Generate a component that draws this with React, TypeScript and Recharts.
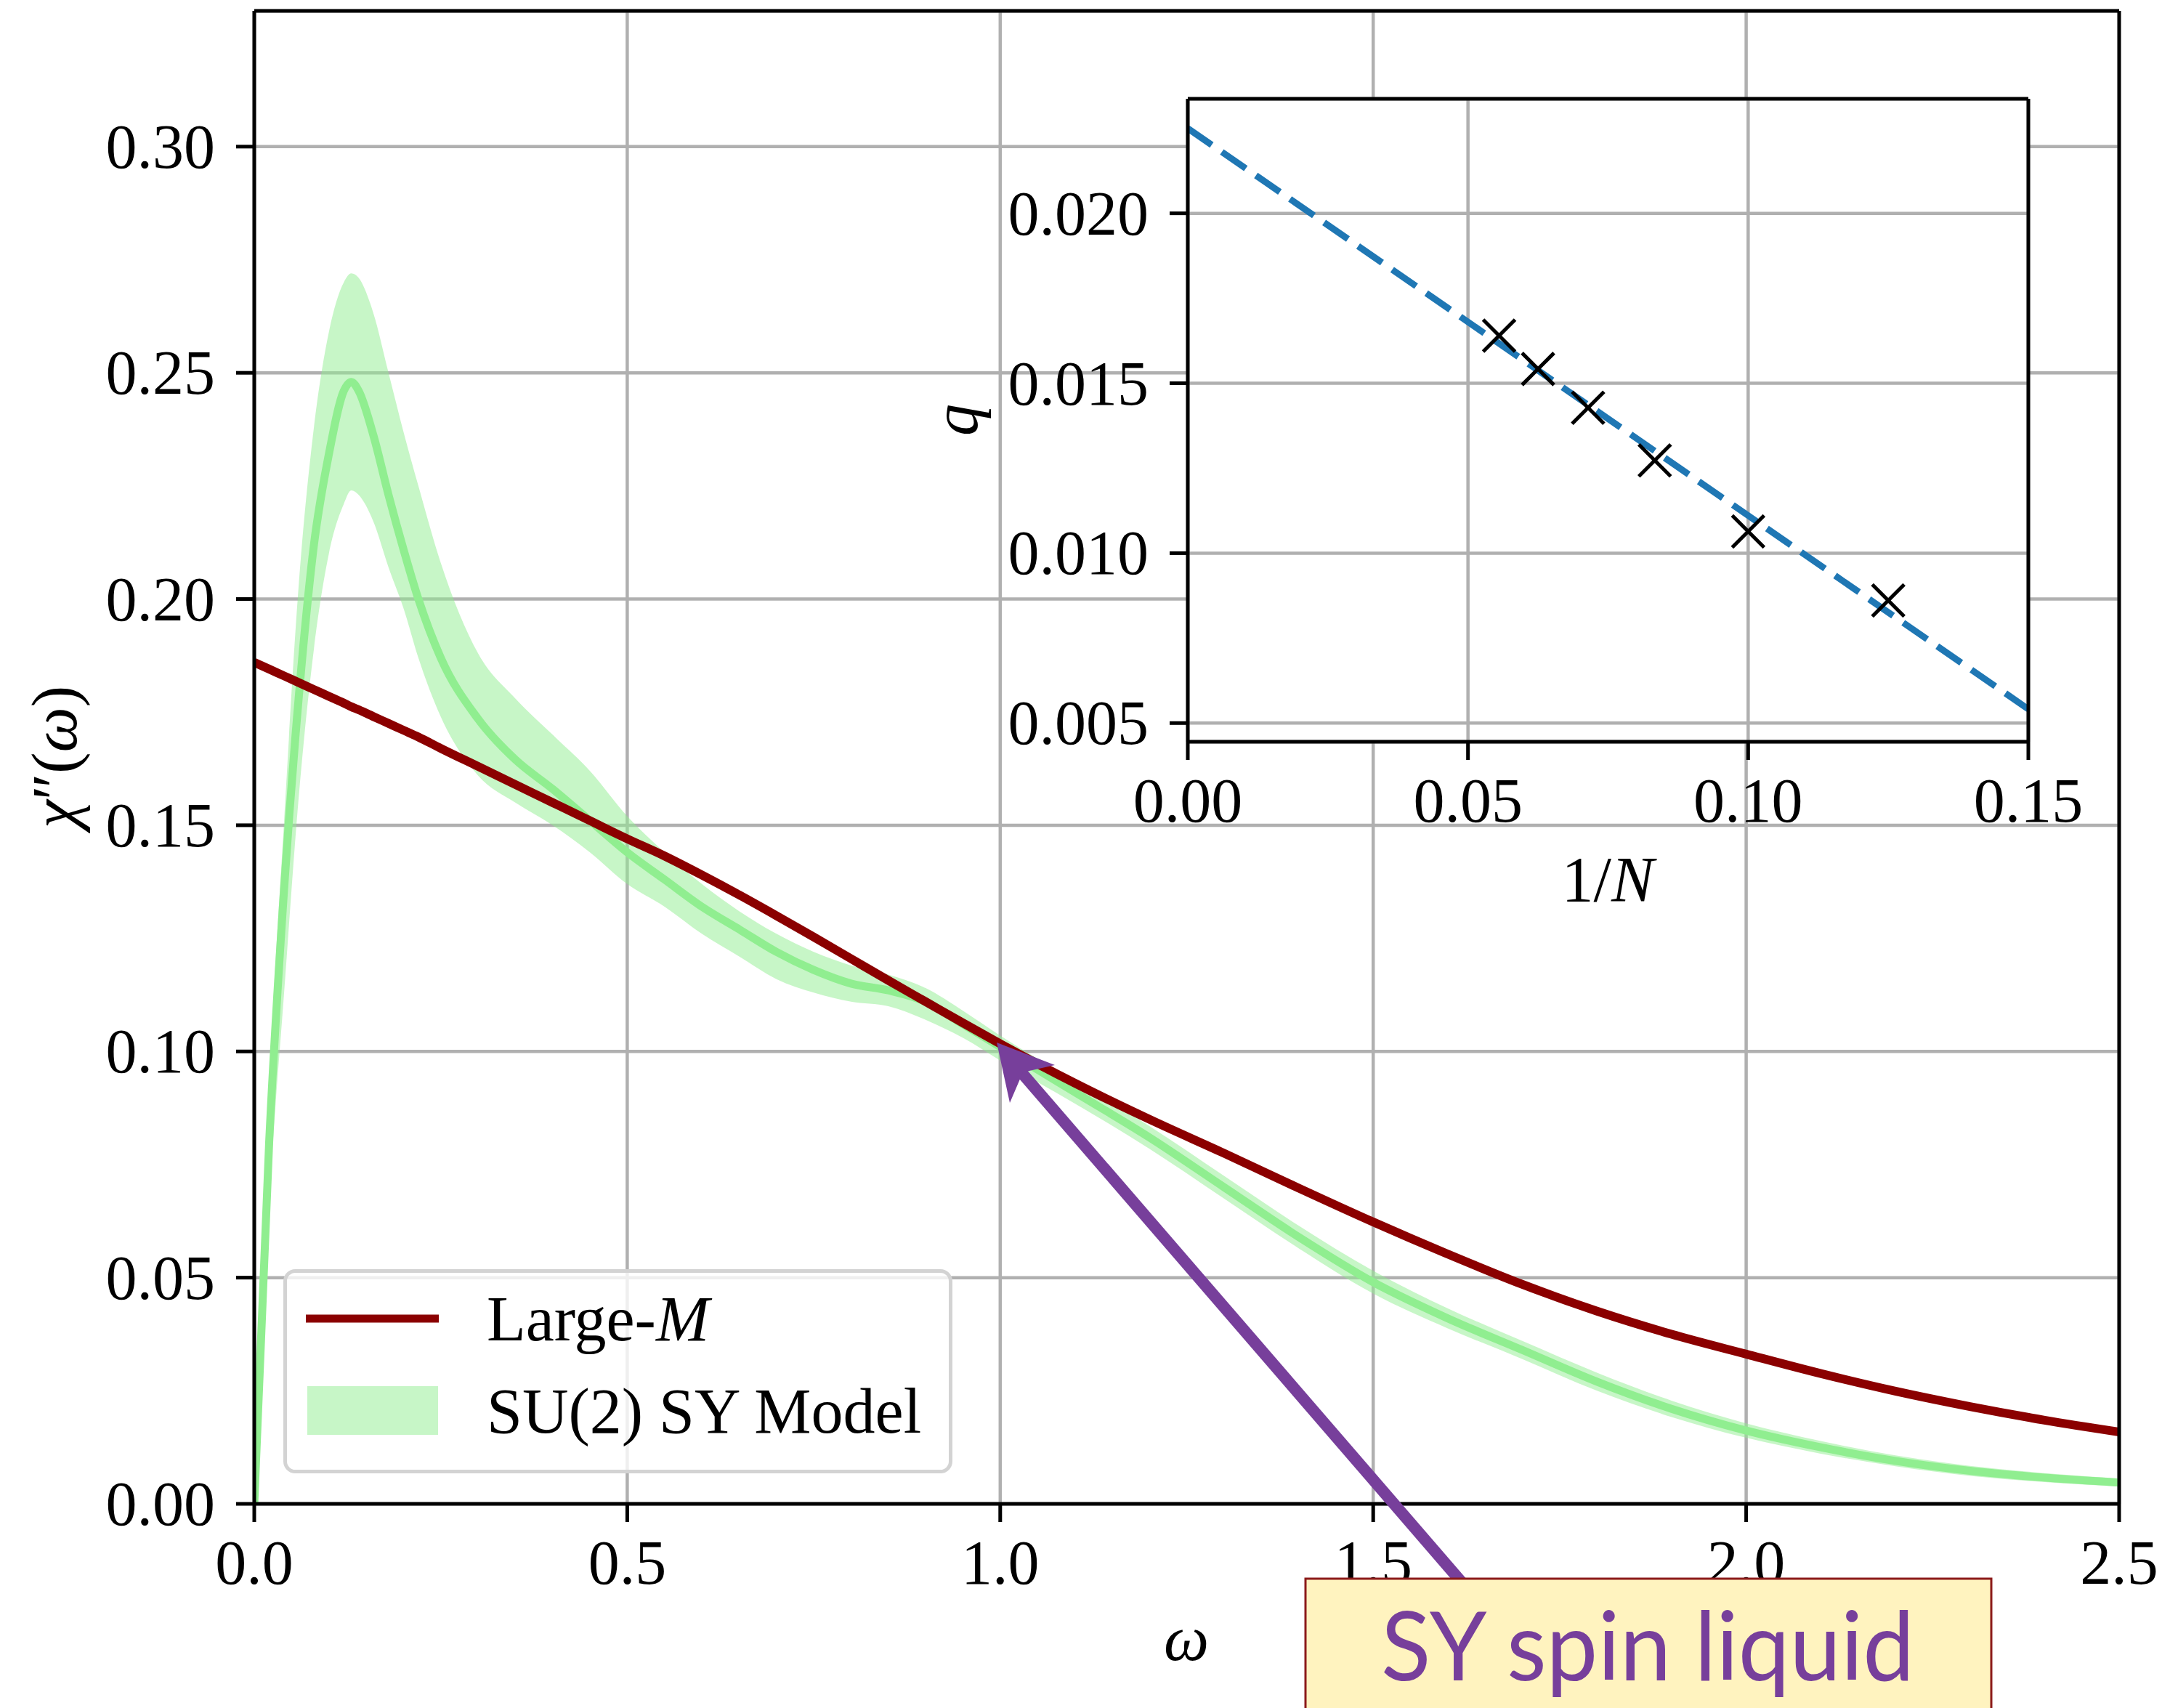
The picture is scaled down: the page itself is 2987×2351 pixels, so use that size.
import React from "react";
import {
  ComposedChart,
  Line,
  Area,
  Scatter,
  XAxis,
  YAxis,
  CartesianGrid,
  ReferenceLine,
  Legend,
} from "recharts";

const SERIF = '"Liberation Serif", "DejaVu Serif", serif';
const SANS = 'Lato, "Open Sans", sans-serif';
const PURPLE = "#773f9b";
const GRID = "#b0b0b0";

// main panel: chi''(omega)
const omega = [
  0, 0.02, 0.04, 0.06, 0.08, 0.1, 0.12, 0.13, 0.14, 0.16, 0.18, 0.2, 0.22, 0.25,
  0.3, 0.35, 0.4, 0.45, 0.5, 0.55, 0.6, 0.65, 0.7, 0.75, 0.8, 0.85, 0.9, 0.95,
  1.0, 1.1, 1.2, 1.3, 1.4, 1.5, 1.6, 1.7, 1.8, 1.9, 2.0, 2.1, 2.2, 2.3, 2.4, 2.5,
];
const largeM = [
  0.186, 0.1845, 0.183, 0.1815, 0.18, 0.1785, 0.177, 0.1762, 0.1755, 0.174, 0.1725,
  0.171, 0.1695, 0.167, 0.163, 0.159, 0.155, 0.151, 0.147, 0.1432, 0.139, 0.1346,
  0.13, 0.1253, 0.1205, 0.1157, 0.111, 0.1063, 0.1017, 0.093, 0.085, 0.0775,
  0.0698, 0.0623, 0.0552, 0.0485, 0.0426, 0.0375, 0.0331, 0.0288, 0.0249, 0.0215,
  0.0185, 0.0159,
];
const syMid = [
  0, 0.08, 0.136, 0.179, 0.212, 0.232, 0.246, 0.248, 0.246, 0.236, 0.223, 0.211,
  0.2, 0.187, 0.1735, 0.1645, 0.158, 0.151, 0.144, 0.138, 0.132, 0.127, 0.122,
  0.118, 0.115, 0.1135, 0.111, 0.106, 0.101, 0.091, 0.081, 0.07, 0.059, 0.049,
  0.041, 0.034, 0.027, 0.021, 0.0162, 0.0125, 0.0095, 0.0073, 0.0058, 0.0047,
];
const syHi = [
  0, 0.092, 0.151, 0.204, 0.238, 0.259, 0.27, 0.272, 0.271, 0.263, 0.25, 0.237,
  0.225, 0.208, 0.188, 0.178, 0.17, 0.162, 0.152, 0.144, 0.137, 0.131, 0.126,
  0.122, 0.119, 0.117, 0.114, 0.109, 0.1035, 0.0935, 0.0835, 0.0725, 0.0615,
  0.0515, 0.0432, 0.036, 0.029, 0.0228, 0.0178, 0.0139, 0.0107, 0.0084, 0.0068,
  0.0056,
];
const syLo = [
  0, 0.067, 0.113, 0.157, 0.189, 0.21, 0.221, 0.224, 0.223, 0.217, 0.207, 0.198,
  0.187, 0.174, 0.161, 0.155, 0.15, 0.144, 0.137, 0.132, 0.126, 0.121, 0.116,
  0.113, 0.111, 0.11, 0.107, 0.103, 0.098, 0.0885, 0.0785, 0.0675, 0.0565,
  0.0465, 0.0388, 0.032, 0.025, 0.0192, 0.0146, 0.0111, 0.0083, 0.0062, 0.0048,
  0.0038,
];
const mainXTicks = [0, 0.5, 1, 1.5, 2, 2.5];
const mainYTicks = [0, 0.05, 0.1, 0.15, 0.2, 0.25, 0.3];

// inset: q against 1/N
const invN = [1 / 18, 1 / 16, 1 / 14, 1 / 12, 1 / 10, 1 / 8];
const qPoints = [0.0164, 0.01542, 0.01428, 0.01273, 0.01064, 0.00861];
const fitX = [0, 0.15];
const fitQ = [0.0225, 0.00541];
const insetXTicks = [0, 0.05, 0.1, 0.15];
const insetYTicks = [0.005, 0.01, 0.015, 0.02];

const mainData = omega.map((w, i) => ({
  w,
  largeM: largeM[i],
  mid: syMid[i],
  band: [syLo[i], syHi[i]],
}));
const fitData = fitX.map((x, i) => ({ x, q: fitQ[i] }));
const markerData = invN.map((x, i) => ({ x, q: qPoints[i] }));

const xTick = (digits: number) => (props: any) => (
  <text
    x={props.x}
    y={props.y + 85}
    textAnchor="middle"
    fontSize={86}
    fontFamily={SERIF}
    fill="#000"
  >
    {Number(props.payload.value).toFixed(digits)}
  </text>
);

const yTick = (digits: number) => (props: any) => (
  <text
    x={props.x - 29}
    y={props.y + 29}
    textAnchor="end"
    fontSize={86}
    fontFamily={SERIF}
    fill="#000"
  >
    {Number(props.payload.value).toFixed(digits)}
  </text>
);

const XMark = (props: any) => {
  const { cx, cy } = props;
  const s = 22;
  return (
    <g stroke="#000" strokeWidth={5}>
      <line x1={cx - s} y1={cy - s} x2={cx + s} y2={cy + s} />
      <line x1={cx - s} y1={cy + s} x2={cx + s} y2={cy - s} />
    </g>
  );
};

const LegendBox = () => (
  <svg width={921} height={281} style={{ display: "block" }}>
    <rect
      x={2.5}
      y={2.5}
      width={916}
      height={276}
      rx={14}
      fill="#fff"
      fillOpacity={0.8}
      stroke="#d3d3d3"
      strokeWidth={5}
    />
    <line x1={31} x2={214} y1={68} y2={68} stroke="#8b0000" strokeWidth={11} />
    <text x={280} y={98} fontSize={88} fontFamily={SERIF}>
      Large-<tspan fontStyle="italic">M</tspan>
    </text>
    <rect x={33} y={161} width={180} height={67} fill="#90ee90" fillOpacity={0.5} />
    <text x={280} y={225} fontSize={88} fontFamily={SERIF}>
      SU(2) SY Model
    </text>
  </svg>
);

function MainChart() {
  return (
    <ComposedChart
      width={2987}
      height={2351}
      data={mainData}
      margin={{ top: 15, right: 70, bottom: 0, left: 0 }}
    >
      <CartesianGrid stroke={GRID} strokeWidth={4.5} />
      <XAxis
        dataKey="w"
        type="number"
        domain={[0, 2.5]}
        ticks={mainXTicks}
        interval={0}
        height={281}
        tickSize={25}
        tickMargin={0}
        axisLine={{ stroke: "#000", strokeWidth: 5 }}
        tickLine={{ stroke: "#000", strokeWidth: 5 }}
        tick={xTick(1)}
        allowDataOverflow
      />
      <YAxis
        type="number"
        domain={[0, 0.33]}
        ticks={mainYTicks}
        interval={0}
        width={350}
        tickSize={25}
        tickMargin={0}
        axisLine={{ stroke: "#000", strokeWidth: 5 }}
        tickLine={{ stroke: "#000", strokeWidth: 5 }}
        tick={yTick(2)}
        allowDataOverflow
      />
      <Area
        dataKey="band"
        type="monotone"
        stroke="none"
        fill="#90ee90"
        fillOpacity={0.5}
        isAnimationActive={false}
        activeDot={false}
      />
      <Line
        dataKey="mid"
        type="monotone"
        stroke="#90ee90"
        strokeWidth={11}
        dot={false}
        activeDot={false}
        isAnimationActive={false}
      />
      <Line
        dataKey="largeM"
        type="monotone"
        stroke="#8b0000"
        strokeWidth={12}
        dot={false}
        activeDot={false}
        isAnimationActive={false}
      />
      <ReferenceLine x={2.5} stroke="#000" strokeWidth={5} />
      <ReferenceLine y={0.33} stroke="#000" strokeWidth={5} />
      <Legend
        layout="horizontal"
        align="center"
        verticalAlign="middle"
        content={<LegendBox />}
        wrapperStyle={{ left: 390, top: 1747, width: 921, height: 281, margin: 0 }}
      />
    </ComposedChart>
  );
}

function InsetChart() {
  return (
    <ComposedChart
      width={1600}
      height={1250}
      data={fitData}
      margin={{ top: 36, right: 108, bottom: 0, left: 0 }}
    >
      <CartesianGrid stroke={GRID} strokeWidth={4.5} fill="#fff" fillOpacity={1} />
      <XAxis
        dataKey="x"
        type="number"
        domain={[0, 0.15]}
        ticks={insetXTicks}
        interval={0}
        height={329}
        tickSize={25}
        tickMargin={0}
        axisLine={{ stroke: "#000", strokeWidth: 5 }}
        tickLine={{ stroke: "#000", strokeWidth: 5 }}
        tick={xTick(2)}
        allowDataOverflow
      />
      <YAxis
        type="number"
        domain={[0.00445, 0.02337]}
        ticks={insetYTicks}
        interval={0}
        width={335}
        tickSize={25}
        tickMargin={0}
        axisLine={{ stroke: "#000", strokeWidth: 5 }}
        tickLine={{ stroke: "#000", strokeWidth: 5 }}
        tick={yTick(3)}
        allowDataOverflow
      />
      <Line
        dataKey="q"
        type="linear"
        stroke="#1f77b4"
        strokeWidth={9}
        strokeDasharray="40 17"
        dot={false}
        activeDot={false}
        isAnimationActive={false}
      />
      <Scatter
        data={markerData}
        dataKey="q"
        shape={XMark}
        isAnimationActive={false}
      />
      <ReferenceLine x={0.15} stroke="#000" strokeWidth={5} />
      <ReferenceLine y={0.02337} stroke="#000" strokeWidth={5} />
    </ComposedChart>
  );
}

function Overlay() {
  return (
    <svg
      width={2987}
      height={2351}
      style={{ position: "absolute", left: 0, top: 0, pointerEvents: "none" }}
    >
      {/* axis titles */}
      <text x={1633} y={2285} textAnchor="middle" fontSize={88} fontFamily={SERIF} fontStyle="italic">
        ω
      </text>
      <text
        transform="translate(105,1042) rotate(-90)"
        textAnchor="middle"
        fontSize={88}
        fontFamily={SERIF}
      >
        <tspan fontStyle="italic">χ</tspan>″(<tspan fontStyle="italic">ω</tspan>)
      </text>
      <text x={2213} y={1240} textAnchor="middle" fontSize={88} fontFamily={SERIF}>
        1/<tspan fontStyle="italic">N</tspan>
      </text>
      <text
        transform="translate(1345,578) rotate(-90)"
        textAnchor="middle"
        fontSize={88}
        fontFamily={SERIF}
        fontStyle="italic"
      >
        q
      </text>

      {/* annotation arrow and box */}
      <line x1={1405} y1={1475} x2={2025} y2={2193} stroke={PURPLE} strokeWidth={16} />
      <polygon points="1372,1435 1452,1466 1408,1476 1390,1518" fill={PURPLE} />
      <rect x={1797} y={2173} width={944} height={220} fill="#fff3bf" stroke="#8b1a1a" strokeWidth={3} />
      <text
        x={1901}
        y={2313}
        fontSize={132}
        fontFamily={SANS}
        fill={PURPLE}
        textLength={734}
        lengthAdjust="spacingAndGlyphs"
      >
        SY spin liquid
      </text>
    </svg>
  );
}

export default function App() {
  return (
    <div
      style={{
        position: "absolute",
        left: 0,
        top: 0,
        width: 2987,
        height: 2351,
        background: "#fff",
        overflow: "hidden",
      }}
    >
      <div style={{ position: "absolute", left: 0, top: 0 }}>
        <MainChart />
      </div>
      <div style={{ position: "absolute", left: 1300, top: 100 }}>
        <InsetChart />
      </div>
      <Overlay />
    </div>
  );
}
